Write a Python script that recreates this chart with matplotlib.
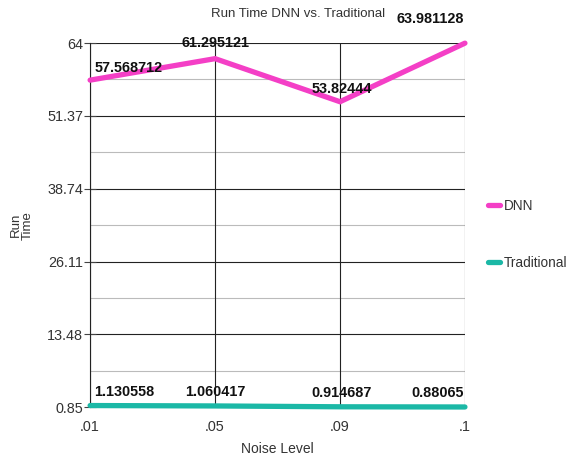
import matplotlib
matplotlib.use("Agg")
import matplotlib.pyplot as plt
from matplotlib.lines import Line2D

plt.rcParams['font.family'] = ['Liberation Sans', 'DejaVu Sans']

noise_levels = [".01", ".05", ".09", ".1"]
dnn_times = [57.568712, 61.295121, 53.82444, 63.981128]
trad_times = [1.130558, 1.060417, 0.914687, 0.88065]
y_ticks = [0.85, 13.48, 26.11, 38.74, 51.37, 64]

dnn_color = "#f43fc6"
trad_color = "#1bb8a6"
text_color = "#333333"

fig = plt.figure(figsize=(5.74, 4.58), dpi=100)
ax = fig.add_axes([0.157, 0.111, 0.653, 0.795])

x = list(range(len(noise_levels)))
ax.set_xlim(x[0], x[-1])
ax.set_ylim(y_ticks[0], y_ticks[-1])

# grid: major horizontal lines, light minor lines halfway between, vertical category lines
for yv in y_ticks:
    ax.axhline(yv, color="#222222", lw=0.8, zorder=1)
for a, b in zip(y_ticks[:-1], y_ticks[1:]):
    ax.axhline((a + b) / 2, color="#bbbbbb", lw=0.8, zorder=1)
for xv in x:
    ax.axvline(xv, color="#222222", lw=0.8, zorder=1)

ax.plot(x, dnn_times, color=dnn_color, lw=3.8, solid_capstyle="round",
        solid_joinstyle="miter", zorder=3, clip_on=False)
ax.plot(x, trad_times, color=trad_color, lw=3.8, solid_capstyle="round",
        zorder=3, clip_on=False)

# value labels: first left-aligned, middle centred, last right-aligned
aligns = ["left", "center", "center", "right"]
x_offsets = [3, 0, 1, -1]
dnn_y_offsets = [4, 6, 4, 12]
for xi, v, ha, dx, dy in zip(x, dnn_times, aligns, x_offsets, dnn_y_offsets):
    ax.annotate(str(v), (xi, v), xytext=(dx, dy), textcoords="offset points",
                ha=ha, va="bottom", fontsize=10.4, fontweight="bold",
                color="#111111", zorder=4, annotation_clip=False)
for xi, v, ha, dx in zip(x, trad_times, aligns, x_offsets):
    ax.annotate(str(v), (xi, v), xytext=(dx, 5), textcoords="offset points",
                ha=ha, va="bottom", fontsize=10.4, fontweight="bold",
                color="#111111", zorder=4, annotation_clip=False)

ax.set_xticks(x)
ax.set_xticklabels(noise_levels, fontsize=10.4, color=text_color)
ax.set_yticks(y_ticks)
ax.set_yticklabels([f"{t:g}" for t in y_ticks], fontsize=10.4, color=text_color)
ax.tick_params(axis="y", direction="inout", length=8, color="#444444", pad=1)
ax.tick_params(axis="x", length=0, pad=9)

for side in ["top", "right", "bottom"]:
    ax.spines[side].set_visible(False)
ax.spines["left"].set_color("#222222")
ax.spines["left"].set_linewidth(0.8)

fig.text(298 / 574, 1 - 14 / 458, "Run Time DNN vs. Traditional", fontsize=9.5,
         color=text_color, ha="center", va="center")
ax.set_xlabel("Noise Level", fontsize=10, color=text_color, labelpad=6)
ax.set_ylabel("Run\nTime", fontsize=9.5, color=text_color, labelpad=10, linespacing=0.95)

handles = [Line2D([], [], color=dnn_color, lw=3.8, solid_capstyle="round"),
           Line2D([], [], color=trad_color, lw=3.8, solid_capstyle="round")]
fig.legend(handles, ["DNN", "Traditional"], loc="upper left",
           bbox_to_anchor=(0.828, 0.592), frameon=False, fontsize=9.8,
           handlelength=0.9, handletextpad=0.3, labelspacing=3.15,
           labelcolor=text_color)

fig.savefig("out.png", dpi=100)
